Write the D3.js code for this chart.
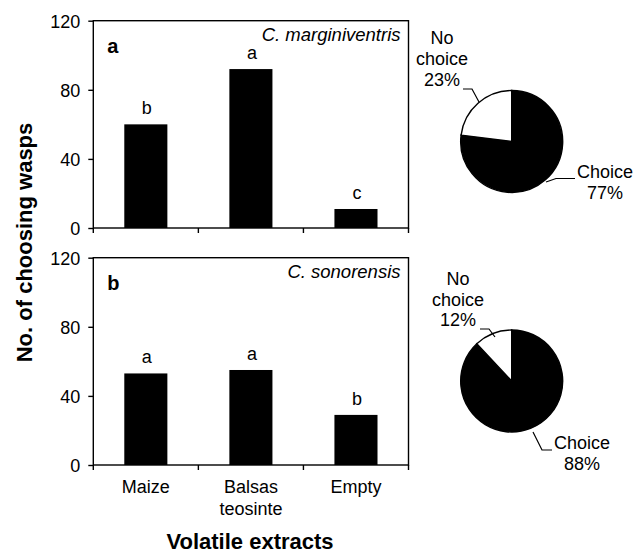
<!DOCTYPE html>
<html><head><meta charset="utf-8">
<script src="https://cdn.jsdelivr.net/npm/d3@7"></script>
<style>body{margin:0;background:#fff}svg{display:block}text{font-family:"Liberation Sans",Arial,sans-serif;fill:#000}</style>
</head><body>
<svg id="c" width="635" height="553"></svg>
<script>
const categories = ["Maize", "Balsas teosinte", "Empty"];
const categoryLines = [["Maize"], ["Balsas", "teosinte"], ["Empty"]];
const valuesA = [60, 92, 11];
const valuesB = [53, 55, 29];
const lettersA = ["b", "a", "c"];
const lettersB = ["a", "a", "b"];
const yTicks = [0, 40, 80, 120];
const pieLabels = ["Choice", "No choice"];
const pieA = [77, 23];
const pieB = [88, 12];
const panelNames = ["a", "b"];
const species = ["C. marginiventris", "C. sonorensis"];

const svg = d3.select("#c");
const left = 93.3, right = 408.5;
const panels = [
  {top: 20.7, bottom: 228, vals: valuesA, lets: lettersA, name: panelNames[0], sp: species[0], pie: pieA, cy: 141.5},
  {top: 257.7, bottom: 465, vals: valuesB, lets: lettersB, name: panelNames[1], sp: species[1], pie: pieB, cy: 381}
];
const x = d3.scaleBand().domain(categories).range([left, right]).padding(0);
const barW = x.bandwidth() * 0.41;

panels.forEach((p, pi) => {
  const y = d3.scaleLinear().domain([0, 120]).range([p.bottom, p.top]);
  const g = svg.append("g");
  g.selectAll("rect.bar").data(p.vals).join("rect")
    .attr("x", (d, i) => x(categories[i]) + x.bandwidth() / 2 - barW / 2)
    .attr("width", barW)
    .attr("y", d => y(d))
    .attr("height", d => y(0) - y(d))
    .attr("fill", "#000");
  g.selectAll("text.let").data(p.vals).join("text")
    .attr("x", (d, i) => x(categories[i]) + x.bandwidth() / 2 + 1)
    .attr("y", d => y(d) - 10)
    .attr("text-anchor", "middle").attr("font-size", 18)
    .text((d, i) => p.lets[i]);
  g.append("rect").attr("x", left).attr("y", p.top).attr("width", right - left).attr("height", p.bottom - p.top)
    .attr("fill", "none").attr("stroke", "#000").attr("stroke-width", 1.4);
  const ya = d3.axisLeft(y).tickValues(yTicks).tickSize(5).tickPadding(8);
  const yg = g.append("g").attr("transform", `translate(${left},0)`).call(ya);
  yg.select(".domain").remove();
  yg.selectAll("line").attr("stroke", "#000").attr("stroke-width", 1.4);
  yg.selectAll("text").attr("font-size", 18).attr("font-family", "Liberation Sans, Arial, sans-serif").attr("fill", "#000").attr("dy", "0.35em");
  const bounds = categories.map(c => x(c)).concat([right]);
  g.selectAll("line.xt").data(bounds).join("line")
    .attr("x1", d => d).attr("x2", d => d).attr("y1", p.bottom).attr("y2", p.bottom + 5)
    .attr("stroke", "#000").attr("stroke-width", 1.4);
  g.append("text").attr("x", left + 14).attr("y", p.top + 32).attr("font-size", 20).attr("font-weight", "bold").text(p.name);
  g.append("text").attr("x", right - 8).attr("y", p.top + 20.5).attr("text-anchor", "end")
    .attr("font-size", 18.5).attr("font-style", "italic").text(p.sp);

  const cx = 511.7, r = 51;
  const pie = d3.pie().sort(null).value(d => d);
  const arc = d3.arc().innerRadius(0).outerRadius(r);
  const pg = svg.append("g").attr("transform", `translate(${cx},${p.cy})`);
  pg.selectAll("path").data(pie(p.pie)).join("path")
    .attr("d", arc).attr("fill", (d, i) => i === 0 ? "#000" : "#fff")
    .attr("stroke", "#000").attr("stroke-width", 1.4);
});

function lbl(lines, cx, y0, dy) {
  lines.forEach((t, i) => svg.append("text").attr("x", cx).attr("y", y0 + i * dy)
    .attr("text-anchor", "middle").attr("font-size", 18).text(t));
}
const pctA = pieA.map(v => v + "%"), pctB = pieB.map(v => v + "%");
lbl(["No", "choice", pctA[1]], 442, 44, 21);
lbl([pieLabels[0], pctA[0]], 605, 178, 20.5);
lbl(["No", "choice", pctB[1]], 458, 285, 20.5);
lbl([pieLabels[0], pctB[0]], 582, 449, 20.5);
const lead = [
  [[463, 89], [472, 89], [479, 102]],
  [[546, 182], [556, 178.5], [575, 178.5]],
  [[480, 329], [489, 329], [495, 337]],
  [[533, 432], [542, 450], [552, 450]]
];
lead.forEach(pts => svg.append("path").attr("d", d3.line()(pts)).attr("fill", "none").attr("stroke", "#000").attr("stroke-width", 1.2));

categoryLines.forEach((ls, i) => ls.forEach((t, j) =>
  svg.append("text").attr("x", x(categories[i]) + x.bandwidth() / 2).attr("y", 493 + j * 22)
    .attr("text-anchor", "middle").attr("font-size", 18).text(t)));

svg.append("text").attr("x", 250).attr("y", 549).attr("text-anchor", "middle")
  .attr("font-size", 22).attr("font-weight", "bold").text("Volatile extracts");
svg.append("text").attr("transform", "translate(32,242.5) rotate(-90)").attr("text-anchor", "middle")
  .attr("font-size", 22).attr("font-weight", "bold").text("No. of choosing wasps");
</script>
</body></html>
